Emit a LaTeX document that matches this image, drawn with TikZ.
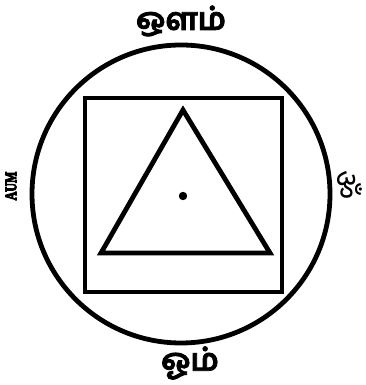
\documentclass[tikz,border=0pt]{standalone}
\usepackage{fontspec}
\usepackage{tikz}
\setmainfont{Liberation Serif}
\newfontfamily\tamilfont[Script=Tamil, BoldFeatures={FakeBold=2.5}]{Hind Madurai}
\newfontfamily\devafont[Script=Devanagari, BoldFeatures={FakeBold=4}]{Noto Sans}
\newfontfamily\aumfont[BoldFeatures={FakeBold=7}]{Liberation Serif}

\begin{document}
\begin{tikzpicture}[x=1pt, y=1pt, line_style/.style={line width=4.8pt, black, line join=miter},
			label_style/.style={inner sep=0pt, font=\tamilfont\bfseries\fontsize{31}{31}\selectfont}]
			\useasboundingbox (0,0) rectangle (365,385);
			\def\r{149}
			\draw[line_style] (181,191) circle (\r);
			\draw[line_style, line width=4.5pt] (85,93) rectangle (282,287);
			\draw[line_style] (183,275) -- (101,132) -- (270,132) -- cycle;
			\fill (183,189) circle (4.2);
			
			\draw {node[label_style] (top) at (181,364) {ஔம்}};
			\draw {node[label_style] (bottom) at (190,22) {ஓம்}};
			\draw {node[inner sep=0pt, rotate=90, font=\aumfont\bfseries\fontsize{16}{16}\selectfont] (left) at (11,199) {\scalebox{0.75}[1]{AUM}}};
			\draw {node[inner sep=0pt, rotate=-90, font=\devafont\bfseries\fontsize{32}{32}\selectfont] (right) at (349,200) {ॐ}};
		\end{tikzpicture}
\end{document}
